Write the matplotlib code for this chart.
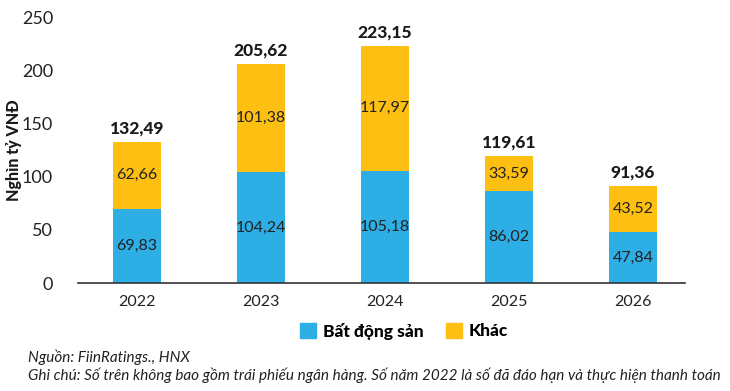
import matplotlib
matplotlib.use("Agg")
import matplotlib.pyplot as plt
from matplotlib.patches import Patch

years = ["2022", "2023", "2024", "2025", "2026"]
bds = [69.83, 104.24, 105.18, 86.02, 47.84]
khac = [62.66, 101.38, 117.97, 33.59, 43.52]
totals = [132.49, 205.62, 223.15, 119.61, 91.36]
yticks = [0, 50, 100, 150, 200, 250]

BLUE = "#2DAEE4"
YELLOW = "#FDBF12"
FONT = ["Lato", "DejaVu Sans"]
plt.rcParams["font.family"] = FONT


def vn(v):
    return f"{v:.2f}".replace(".", ",")


fig = plt.figure(figsize=(7.3, 3.91), dpi=100)
ax = fig.add_axes([78 / 730, 1 - 283 / 391, (685 - 78) / 730, (283 - 17) / 391])

x = list(range(len(years)))
w = 0.39
ax.bar(x, bds, w, color=BLUE, zorder=2)
ax.bar(x, khac, w, bottom=bds, color=YELLOW, zorder=2)

for i in x:
    ax.text(i, bds[i] / 2, vn(bds[i]), ha="center", va="center", fontsize=11.5, color="#222222")
    ax.text(i, bds[i] + khac[i] / 2, vn(khac[i]), ha="center", va="center", fontsize=11.5, color="#222222")
    ax.text(i, totals[i] + 5, vn(totals[i]), ha="center", va="bottom", fontsize=12.5,
            fontweight="black", color="#1a1a1a")

ax.set_xlim(-0.476, 4.42)
ax.set_ylim(0, 250)
ax.set_yticks(yticks)
ax.set_yticklabels([str(t) for t in yticks], fontsize=13, color="#222222")
ax.set_xticks(x)
ax.set_xticklabels(years, fontsize=11.5, color="#222222")
ax.tick_params(axis="both", length=0)
ax.tick_params(axis="y", pad=18)
ax.tick_params(axis="x", pad=9)
for s in ["top", "right", "left"]:
    ax.spines[s].set_visible(False)
ax.spines["bottom"].set_color("#333333")
ax.spines["bottom"].set_linewidth(1.2)

fig.text(14 / 730, 1 - 150 / 391, "Nghìn tỷ VNĐ", rotation=90, ha="center", va="center",
         fontsize=11.5, fontweight="black", color="#1a1a1a")

handles = [Patch(color=BLUE, label="Bất động sản"), Patch(color=YELLOW, label="Khác")]
leg = fig.legend(handles=handles, loc="center", bbox_to_anchor=(404 / 730, 1 - 331 / 391), ncol=2,
                 frameon=False, handlelength=0.9, handleheight=0.9, handletextpad=0.4,
                 columnspacing=1.3, prop={"family": FONT, "weight": "black", "size": 12.5})

fig.text(28 / 730, 1 - 357 / 391, "Nguồn: FiinRatings., HNX", ha="left", va="center",
         fontsize=11, style="italic", color="#222222")
fig.text(28 / 730, 1 - 375 / 391,
         "Ghi chú: Số trên không bao gồm trái phiếu ngân hàng. Số năm 2022 là số đã đáo hạn và thực hiện thanh toán",
         ha="left", va="center", fontsize=11, style="italic", color="#222222")

fig.savefig("out.png", dpi=100)
